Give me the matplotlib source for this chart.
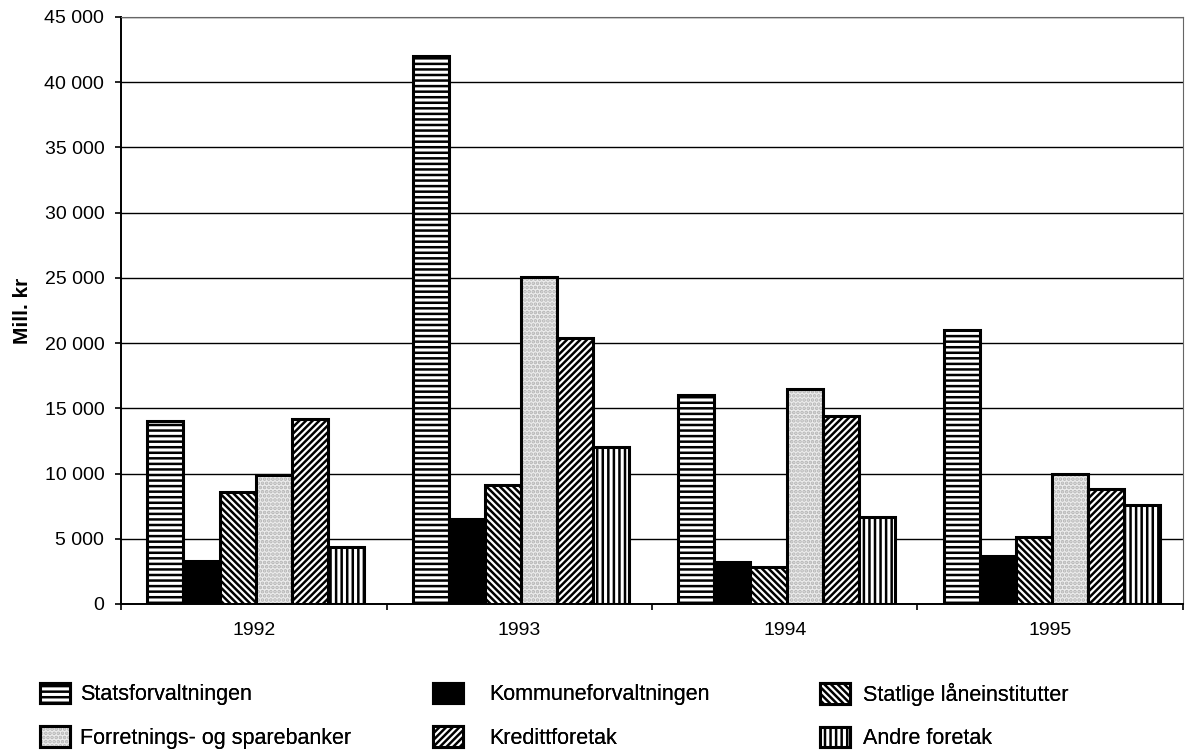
import numpy as np
import matplotlib.pyplot as plt
from matplotlib.ticker import FuncFormatter, MultipleLocator
from matplotlib.legend_handler import HandlerTuple

plt.rcParams['font.family'] = ['Liberation Sans', 'DejaVu Sans']
plt.rcParams['hatch.linewidth'] = 1.8

years = ["1992", "1993", "1994", "1995"]
series = ["Statsforvaltningen", "Kommuneforvaltningen", "Statlige låneinstitutter",
          "Forretnings- og sparebanker", "Kredittforetak", "Andre foretak"]
stats = [14000, 42000, 16000, 21000]
kommune = [3300, 6500, 3200, 3700]
statlige = [8600, 9100, 2800, 5100]
forretning = [9900, 25100, 16500, 10000]
kreditt = [14200, 20400, 14400, 8800]
andre = [4400, 12000, 6700, 7600]
values = [stats, kommune, statlige, forretning, kreditt, andre]

faces = ["white", "black", "white", "#ececec", "white", "white"]
hatches = ["---", None, "\\" * 5, "....", "/" * 5, "|||"]

fig = plt.figure(figsize=(11.9, 7.54), dpi=100)
ax = fig.add_axes([0.1017, 0.199, 0.8924, 0.7785])

x = np.arange(len(years))
w = 0.136
handles = []
for i, (name, vals) in enumerate(zip(series, values)):
    pos = x + (i - 2.5) * w + 0.007
    if i == 3:
        # grey dotted fill: hatch in grey, outline drawn on top in black
        b1 = ax.bar(pos, vals, w, color=faces[i], hatch=hatches[i],
                    edgecolor="#b4b4b4", linewidth=0, zorder=3)
        b2 = ax.bar(pos, vals, w, fill=False, edgecolor="black",
                    linewidth=2.2, zorder=4)
        handles.append((b1, b2))
    else:
        b = ax.bar(pos, vals, w, color=faces[i], hatch=hatches[i],
                   edgecolor="black", linewidth=2.2, zorder=3)
        handles.append(b)

ax.set_xlim(-0.5, 3.5)
ax.set_ylim(0, 45000)
ax.yaxis.set_major_locator(MultipleLocator(5000))
ax.yaxis.set_major_formatter(FuncFormatter(lambda v, p: f"{int(v):,}".replace(",", " ")))
ax.grid(axis="y", color="black", linewidth=1.0, zorder=0)
ax.set_xticks(x)
ax.set_xticklabels(years)
ax.set_xticks(np.arange(-0.5, 4.0, 1.0), minor=True)
ax.tick_params(axis="x", which="major", length=0, pad=13, labelsize=14)
ax.tick_params(axis="x", which="minor", length=4.5, width=1.2)
ax.tick_params(axis="y", length=4, width=1.2, labelsize=14, pad=8)
for s in ["left", "bottom"]:
    ax.spines[s].set_linewidth(1.4)
for s in ["top", "right"]:
    ax.spines[s].set_linewidth(0.8)
    ax.spines[s].set_color("#666666")
ax.set_ylabel("Mill. kr", fontsize=15, fontweight="bold")
ax.yaxis.set_label_coords(-0.084, 0.5)

# legend: three columns of two entries
cols = [(0, 3), (1, 4), (2, 5)]
col_x = [0.0336, 0.3639, 0.6891]
text_pad = [0.47, 1.2, 0.6]
for (a, b), cx, tp in zip(cols, col_x, text_pad):
    leg = fig.legend([handles[a], handles[b]], [series[a], series[b]],
                     loc="upper left", bbox_to_anchor=(cx, 0.0948),
                     frameon=False, fontsize=15.5, borderpad=0, borderaxespad=0,
                     handlelength=1.4, handleheight=1.1, labelspacing=0.98,
                     handletextpad=tp,
                     handler_map={tuple: HandlerTuple(ndivide=1, pad=0)})
    fig.add_artist(leg)

fig.savefig("out.png", dpi=100)
